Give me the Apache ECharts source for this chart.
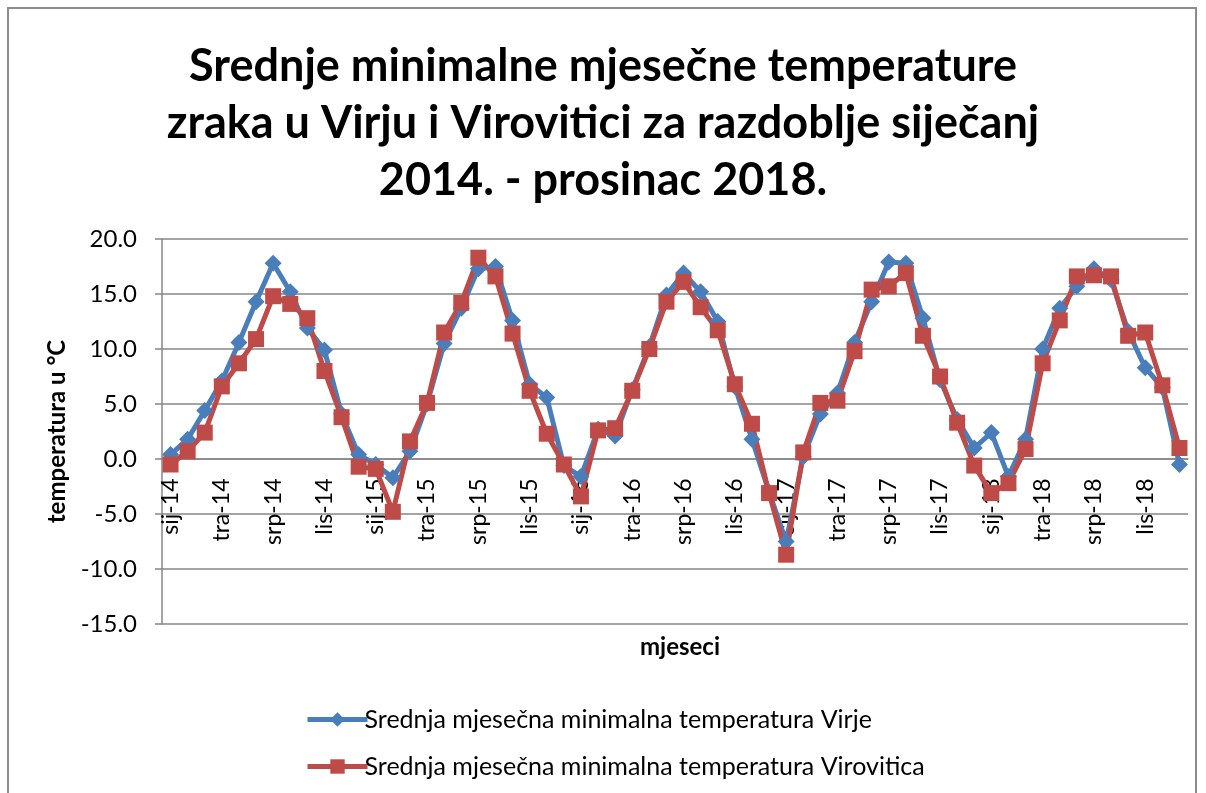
<!DOCTYPE html>
<html>
<head>
<meta charset="utf-8">
<script src="https://cdn.jsdelivr.net/npm/echarts@6/dist/echarts.min.js"></script>
<style>
  html, body { margin: 0; padding: 0; background: #fff; }
  #frame {
    position: absolute; left: 7px; top: 7px;
    width: 1190px; height: 800px;
    border: 2px solid #8c8c8c; box-sizing: border-box;
  }
  #chart { position: absolute; left: 0; top: 0; width: 1206px; height: 793px; }
</style>
</head>
<body>
<div id="frame"></div>
<div id="chart"></div>
<script>
// mjeseci sij-14 ... pro-18
const monthNames = ['sij', 'velj', 'ožu', 'tra', 'svi', 'lip', 'srp', 'kol', 'ruj', 'lis', 'stu', 'pro'];
const years = ['14', '15', '16', '17', '18'];
const months = [];
years.forEach(y => monthNames.forEach(m => months.push(m + '-' + y)));

// Virje (°C)
const virje = [
  0.4, 1.8, 4.4, 7.1, 10.6, 14.3, 17.8, 15.2, 11.9, 9.9, 4.1, 0.4,
  -0.5, -1.7, 0.7, 5.0, 10.5, 13.7, 17.3, 17.5, 12.6, 6.8, 5.6, -0.6,
  -1.6, 2.7, 2.1, 6.3, 10.2, 14.9, 16.9, 15.2, 12.5, 6.6, 1.8, -3.0,
  -7.5, 0.2, 4.1, 6.0, 10.6, 14.3, 17.9, 17.8, 12.8, 7.2, 3.6, 1.0,
  2.4, -1.6, 1.8, 10.0, 13.7, 15.7, 17.3, 16.3, 11.6, 8.3, 6.5, -0.5
];

// Virovitica (°C)
const virovitica = [
  -0.5, 0.7, 2.4, 6.6, 8.7, 10.9, 14.8, 14.1, 12.8, 8.0, 3.8, -0.7,
  -0.9, -4.8, 1.6, 5.1, 11.5, 14.2, 18.3, 16.6, 11.4, 6.2, 2.3, -0.5,
  -3.4, 2.6, 2.8, 6.2, 10.0, 14.3, 16.1, 13.8, 11.7, 6.8, 3.2, -3.1,
  -8.7, 0.6, 5.1, 5.3, 9.8, 15.4, 15.7, 16.9, 11.2, 7.5, 3.3, -0.6,
  -3.1, -2.2, 0.9, 8.7, 12.6, 16.6, 16.7, 16.6, 11.2, 11.5, 6.7, 1.0
];

const seriesNames = [
  'Srednja mjesečna minimalna temperatura Virje',
  'Srednja mjesečna minimalna temperatura Virovitica'
];

const font = 'Lato, "Open Sans", sans-serif';
const blue = '#4A7EBB';
const red = '#BE4B48';
const chart = echarts.init(document.getElementById('chart'));

chart.setOption({
  animation: false,
  textStyle: { fontFamily: font },
  title: [
    {
      text: 'Srednje minimalne mjesečne temperature\nzraka u Virju i Virovitici za razdoblje siječanj\n2014. - prosinac 2018.',
      left: 'center',
      top: 33,
      textStyle: { fontFamily: font, fontSize: 45, fontWeight: 'bold', color: '#000', lineHeight: 57 }
    },
    {
      text: 'mjeseci',
      left: 675,
      top: 630,
      textAlign: 'center',
      textStyle: { fontFamily: font, fontSize: 24, fontWeight: 'bold', color: '#000' }
    }
  ],
  legend: {
    orient: 'vertical',
    left: 300,
    top: 702,
    itemGap: 22,
    itemWidth: 60,
    itemHeight: 18,
    lineStyle: { width: 5 },
    textStyle: { fontFamily: font, fontSize: 25, color: '#000', padding: [0, 0, 0, -8] },
    data: seriesNames
  },
  grid: { left: 162, right: 18, top: 239, bottom: 169 },
  xAxis: {
    type: 'category',
    data: months,
    boundaryGap: true,
    // kategorijska os presijeca vrijednosnu na 0.0 (kao u Excelu)
    offset: -165,
    axisLine: { onZero: false, lineStyle: { color: '#868686', width: 1.5 } },
    axisTick: { interval: 2, length: 7, lineStyle: { color: '#868686', width: 1.5 } },
    axisLabel: {
      interval: 2, rotate: 90, fontSize: 23, color: '#000', margin: 8, fontFamily: font,
      // razmak od osi (oznake su u Excelu malo odmaknute)
      formatter: v => v + '\u2002'
    }
  },
  yAxis: {
    type: 'value',
    name: 'temperatura u °C',
    nameLocation: 'middle',
    nameGap: 90,
    nameTextStyle: { fontFamily: font, fontSize: 24, fontWeight: 'bold', color: '#000' },
    min: -15,
    max: 20,
    interval: 5,
    axisLine: { show: true, lineStyle: { color: '#868686', width: 1.5 } },
    axisTick: { show: true, length: 7, lineStyle: { color: '#868686', width: 1.5 } },
    axisLabel: {
      fontSize: 24, color: '#000', margin: 25, fontFamily: font,
      formatter: v => v.toFixed(1)
    },
    splitLine: { lineStyle: { color: '#868686', width: 1.5 } }
  },
  series: [
    {
      name: seriesNames[0],
      type: 'line',
      data: virje,
      smooth: false,
      showAllSymbol: true,
      symbol: 'diamond',
      symbolSize: 17,
      color: blue,
      lineStyle: { width: 5, color: blue },
      itemStyle: { color: blue }
    },
    {
      name: seriesNames[1],
      type: 'line',
      data: virovitica,
      smooth: false,
      showAllSymbol: true,
      symbol: 'rect',
      symbolSize: 16,
      color: red,
      lineStyle: { width: 5, color: red },
      itemStyle: { color: red }
    }
  ]
});
</script>
</body>
</html>
